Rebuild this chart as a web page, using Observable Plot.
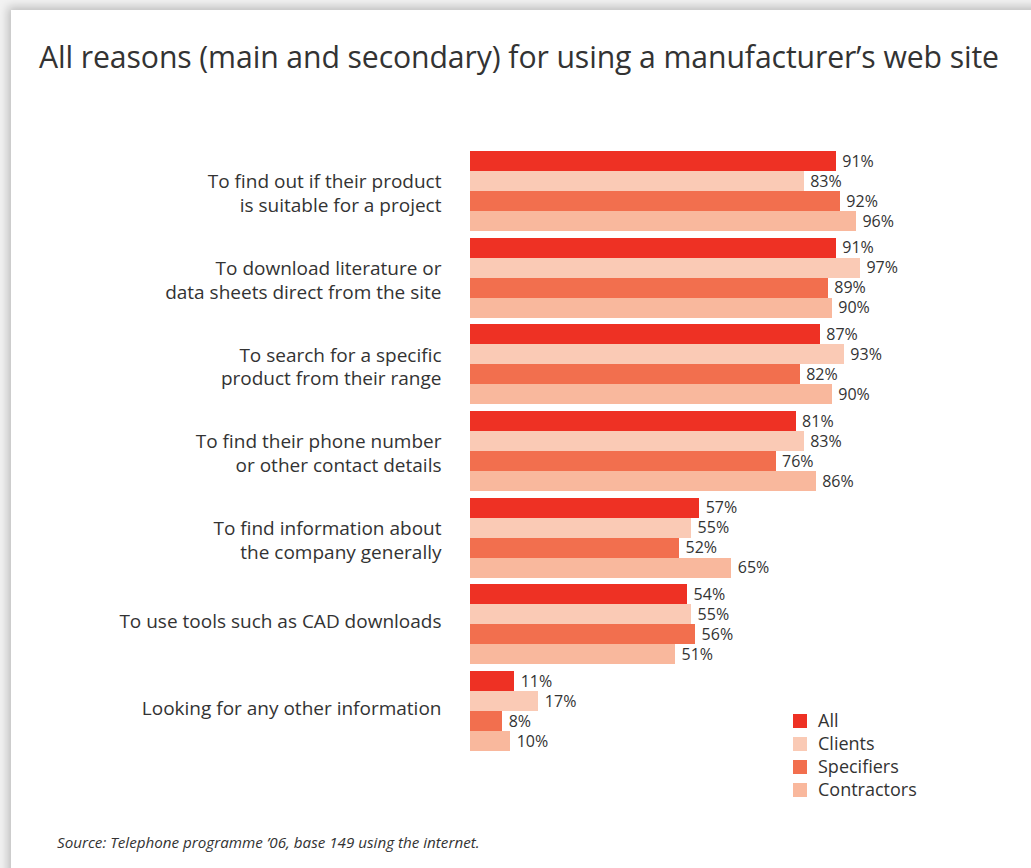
<!DOCTYPE html>
<html>
<head>
<meta charset="utf-8">
<script src="https://cdn.jsdelivr.net/npm/d3@7"></script>
<script src="https://cdn.jsdelivr.net/npm/@observablehq/plot@0.6"></script>
<style>
  html, body { margin: 0; padding: 0; width: 1031px; height: 868px; overflow: hidden; background: #f2f2f2; font-family: "Open Sans", sans-serif; color: #333; }
  #card { position: absolute; left: 11px; top: 10px; width: 1100px; height: 900px; background: #fff; box-shadow: 0 0 9px 3px rgba(0,0,0,0.22); }
  #title { position: absolute; left: 39px; top: 36px; font-size: 30.2px; color: #333; white-space: nowrap; letter-spacing: -0.1px; }
  #chart { position: absolute; left: 0; top: 140px; }
  #legend { position: absolute; left: 793px; top: 710px; }
  .li { position: relative; height: 23px; font-size: 18px; line-height: 21px; }
  .sw { position: absolute; left: 0; top: 4px; width: 14px; height: 14px; }
  .lt { position: absolute; left: 25px; top: 0; white-space: nowrap; }
  #source { position: absolute; left: 57px; top: 832px; font-size: 15.2px; font-style: italic; color: #333; white-space: nowrap; }
</style>
</head>
<body>
<div id="card"></div>
<div id="title">All reasons (main and secondary) for using a manufacturer’s web site</div>
<div id="chart"></div>
<div id="legend"></div>
<div id="source">Source: Telephone programme ’06, base 149 using the internet.</div>
<script>
const categories = [
  "To find out if their product\nis suitable for a project",
  "To download literature or\ndata sheets direct from the site",
  "To search for a specific\nproduct from their range",
  "To find their phone number\nor other contact details",
  "To find information about\nthe company generally",
  "To use tools such as CAD downloads",
  "Looking for any other information"
];
const series = ["All", "Clients", "Specifiers", "Contractors"];
const allValues         = [91, 91, 87, 81, 57, 54, 11];
const clientsValues     = [83, 97, 93, 83, 55, 55, 17];
const specifiersValues  = [92, 89, 82, 76, 52, 56, 8];
const contractorsValues = [96, 90, 90, 86, 65, 51, 10];
const colors = ["#ee3124", "#facab5", "#f26f4e", "#f9b89d"];

const valuesBySeries = [allValues, clientsValues, specifiersValues, contractorsValues];
const data = [];
categories.forEach((c, i) => {
  series.forEach((s, j) => data.push({category: c, series: s, value: valuesBySeries[j][i]}));
});

const multiLine = categories.filter(c => c.includes("\n"));
const singleLine = categories.filter(c => !c.includes("\n"));

const chart = Plot.plot({
  width: 1031,
  height: 621,
  marginLeft: 470,
  marginRight: 159,
  marginTop: 11,
  marginBottom: 10,
  style: {fontFamily: "Open Sans, sans-serif", color: "#333", background: "transparent"},
  x: {domain: [0, 100], axis: null},
  y: {domain: series, padding: 0, round: false, axis: null},
  fy: {domain: categories, paddingInner: 0.077, paddingOuter: 0, round: false, axis: null},
  color: {domain: series, range: colors},
  marks: [
    Plot.barX(data, {x: "value", y: "series", fy: "category", fill: "series", shapeRendering: "crispEdges"}),
    Plot.text(data, {x: "value", y: "series", fy: "category", text: d => d.value + "%", dx: 6, textAnchor: "start", fontSize: 16, fill: "#333"}),
    Plot.text(multiLine, {fy: d => d, text: d => d, frameAnchor: "left", dx: -29, dy: 1, textAnchor: "end", fontSize: 19, lineHeight: 1.26, fill: "#333"}),
    Plot.text(singleLine, {fy: d => d, text: d => d, frameAnchor: "left", dx: -29, dy: -3, textAnchor: "end", fontSize: 19, fill: "#333"})
  ]
});
document.getElementById("chart").appendChild(chart);

const legend = document.getElementById("legend");
series.forEach((s, i) => {
  const row = document.createElement("div");
  row.className = "li";
  row.innerHTML = `<div class="sw" style="background:${colors[i]}"></div><div class="lt">${s}</div>`;
  legend.appendChild(row);
});
</script>
</body>
</html>
